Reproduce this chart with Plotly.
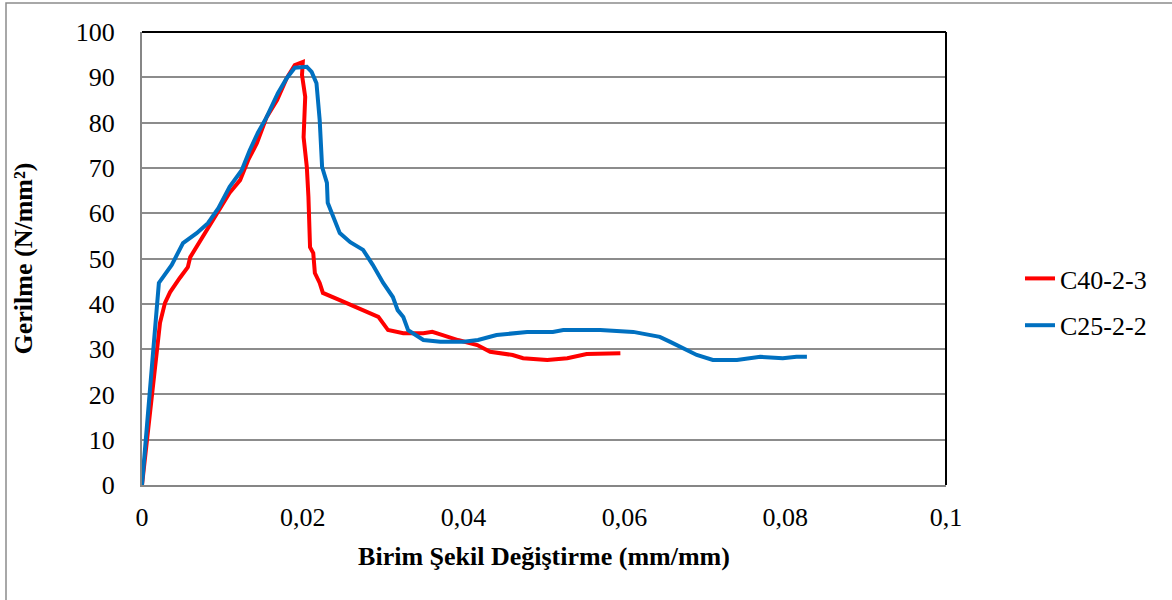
import plotly.graph_objects as go

# Stress–strain readings for the two specimens
c40_strain = [0, 0.00224, 0.00286, 0.0035, 0.0047, 0.0057, 0.006, 0.0075, 0.0085, 0.0097,
              0.0109, 0.0122, 0.0132, 0.0143, 0.0155, 0.0168, 0.018, 0.019, 0.0200,
              0.0199, 0.0203, 0.0201, 0.0205, 0.0207, 0.0209, 0.0213, 0.0215, 0.0221,
              0.0225, 0.0246, 0.0275, 0.0294, 0.0306, 0.0325, 0.035, 0.0361, 0.0374,
              0.0393, 0.0417, 0.0433, 0.0461, 0.0474, 0.0504, 0.0529, 0.0553, 0.0578,
              0.0595]
c40_stress = [0, 35.8, 40.2, 42.6, 45.7, 48.1, 50.3, 54.7, 57.8, 61.4,
              64.5, 67.3, 71.7, 75.5, 81.2, 85.0, 89.8, 92.7, 93.4,
              90.5, 85.7, 76.8, 70.2, 63.6, 52.5, 51.2, 46.8, 44.6,
              42.4, 40.8, 38.6, 37.1, 34.2, 33.5, 33.5, 33.8, 33.1,
              32.0, 30.9, 29.4, 28.7, 28.0, 27.6, 28.0, 28.9, 28.9,
              29.1]

c25_strain = [0, 0.0021, 0.0037, 0.0051, 0.0068, 0.0082, 0.0095, 0.0109, 0.0124, 0.0134,
              0.0144, 0.0155, 0.0169, 0.018, 0.019, 0.0205, 0.0211, 0.0217, 0.0221,
              0.0224, 0.023, 0.0231, 0.0246, 0.0259, 0.0275, 0.0287, 0.03, 0.0312,
              0.0318, 0.0325, 0.0331, 0.035, 0.0371, 0.04, 0.0418, 0.0441, 0.0479,
              0.0511, 0.0524, 0.057, 0.0611, 0.0644, 0.0657, 0.0673, 0.069, 0.071,
              0.074, 0.0769, 0.0797, 0.0814, 0.0827]
c25_stress = [0, 44.6, 48.6, 53.4, 55.6, 57.8, 61.1, 65.8, 69.5, 73.9,
              77.7, 81.2, 86.5, 89.8, 92.1, 92.3, 91.2, 88.7, 80.6,
              70.2, 66.7, 62.3, 55.6, 53.6, 51.9, 48.6, 44.6, 41.5,
              38.6, 37.1, 34.2, 32.0, 31.6, 31.6, 32.0, 33.1, 33.8,
              33.8, 34.2, 34.2, 33.8, 32.7, 31.6, 30.2, 28.7, 27.6,
              27.6, 28.3, 28.0, 28.3, 28.3]

x_ticks = [0, 0.02, 0.04, 0.06, 0.08, 0.1]
x_labels = ["0", "0,02", "0,04", "0,06", "0,08", "0,1"]
y_ticks = list(range(0, 101, 10))

FONT = "Liberation Serif, Times New Roman, serif"

fig = go.Figure()
fig.add_trace(go.Scatter(x=c40_strain, y=c40_stress, mode="lines", name="C40-2-3",
                         legendgroup="a", line=dict(color="#FF0000", width=4)))
fig.add_trace(go.Scatter(x=c25_strain, y=c25_stress, mode="lines", name="C25-2-2",
                         legendgroup="b", line=dict(color="#0070C0", width=4)))

W, H = 1172, 600
L, R, T, B = 142, 226, 32, 115
pw, ph = W - L - R, H - T - B

def px(x):
    return (x - L) / pw

def py(y):
    return 1 - (y - T) / ph

shapes = [
    # outer chart frame
    dict(type="rect", xref="paper", yref="paper", x0=px(6), x1=px(1180), y0=py(608), y1=py(3),
         line=dict(color="#8c8c8c", width=1.5), layer="below"),
    # dark top and right edges of the plot area
    dict(type="line", xref="paper", yref="paper", x0=0, x1=1, y0=1, y1=1,
         line=dict(color="#000000", width=2)),
    dict(type="line", xref="paper", yref="paper", x0=1, x1=1, y0=0, y1=1,
         line=dict(color="#000000", width=2)),
]

fig.update_layout(
    width=W, height=H,
    margin=dict(l=L, r=R, t=T, b=B, autoexpand=False),
    paper_bgcolor="white", plot_bgcolor="white",
    font=dict(family=FONT, size=26, color="black"),
    showlegend=True,
    legend=dict(x=px(1020), y=py(255), xanchor="left", yanchor="top",
                font=dict(family=FONT, size=26, color="black"),
                tracegroupgap=10, bgcolor="rgba(0,0,0,0)"),
    shapes=shapes,
    xaxis=dict(range=[0, 0.1], tickvals=x_ticks, ticktext=x_labels, automargin=False,
               showgrid=False, zeroline=False, showline=True, linecolor="#868686", linewidth=2,
               ticks="", ticklabelstandoff=8, tickfont=dict(family=FONT, size=26),
               title=dict(text="<b>Birim Şekil Değiştirme (mm/mm)</b>",
                          font=dict(family=FONT, size=26), standoff=16)),
    yaxis=dict(range=[0, 100], tickvals=y_ticks, automargin=False,
               showgrid=True, gridcolor="#8c8c8c", gridwidth=1.5, zeroline=False,
               showline=True, linecolor="#868686", linewidth=2,
               ticks="", ticklabelstandoff=20, tickfont=dict(family=FONT, size=26),
               title=dict(text="<b>Gerilme (N/mm²)</b>",
                          font=dict(family=FONT, size=26), standoff=36)),
)

fig.write_html("out.html")
